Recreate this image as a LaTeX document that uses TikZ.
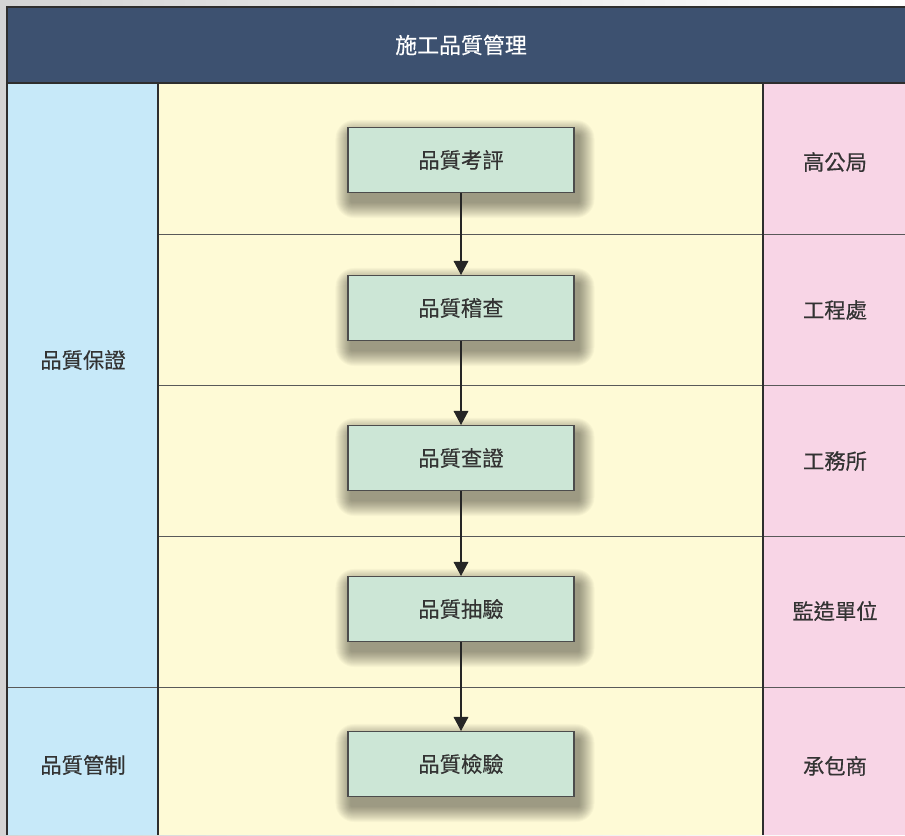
\documentclass[tikz,border=0pt]{standalone}
\usepackage{fontspec}
\newfontfamily\cjk[FakeBold=0.4]{Noto Sans CJK TC}
\usetikzlibrary{arrows.meta}

\definecolor{headblue}{HTML}{3D5170}
\definecolor{cellblue}{HTML}{C7E9F9}
\definecolor{cellyellow}{HTML}{FEFAD6}
\definecolor{cellpink}{HTML}{F8D5E6}
\definecolor{boxgreen}{HTML}{CCE6D6}
\definecolor{framegray}{HTML}{2E2E2E}
\definecolor{textgray}{HTML}{333333}

\pgfdeclarelayer{cells}
\pgfdeclarelayer{shadow}
\pgfsetlayers{cells,shadow,main}

\begin{document}
\begin{tikzpicture}[x=0.03cm, y=-0.03cm,
  font=\cjk\fontsize{18.2}{21}\selectfont,
  stepbox/.style={draw=black!70, line width=0.9pt, fill=boxgreen, text=textgray,
    minimum width=6.78cm, minimum height=1.95cm},
  celltext/.style={text=textgray},
  flow/.style={-{Triangle[length=0.42cm, width=0.44cm]}, line width=0.9pt, black!85}]

\useasboundingbox (0,0) rectangle (905,835);

\begin{pgfonlayer}{cells}
\shade[left color=black!17, right color=white] (0,0) rectangle (905,835);

% columns
\fill[headblue] (7,7) rectangle (905,83);
\fill[cellblue] (7,83) rectangle (158,835);
\fill[cellyellow] (158,83) rectangle (763,835);
\fill[cellpink] (763,83) rectangle (905,835);

\begin{scope}[black!65, line width=0.75pt]
\draw (158,234) -- (905,234);
\draw (158,385) -- (905,385);
\draw (158,536) -- (905,536);
\draw (7,687) -- (905,687);
\end{scope}

\begin{scope}[framegray, line width=1.1pt]
\draw (905,7) -- (7,7) -- (7,835);
\draw (7,83) -- (905,83);
\draw (158,83) -- (158,835);
\draw (763,83) -- (763,835);
\end{scope}
\end{pgfonlayer}

\node[white, font=\cjk\fontsize{18.7}{21}\selectfont] (title) at (461,45) {施工品質管理};

\node[celltext] (assure) at (83,360) {品質保證};
\node[celltext] (control) at (83,765) {品質管制};

\node[stepbox] (rate) at (461,160) {品質考評};
\node[stepbox] (audit) at (461,308) {品質稽查};
\node[stepbox] (verify) at (461,458) {品質查證};
\node[stepbox] (sample) at (461,609) {品質抽驗};
\node[stepbox] (inspect) at (461,764) {品質檢驗};

\node[celltext] (bureau) at (835,162) {高公局};
\node[celltext] (office) at (835,310) {工程處};
\node[celltext] (works) at (835,461) {工務所};
\node[celltext] (super) at (835,611) {監造單位};
\node[celltext] (contractor) at (835,766) {承包商};

% soft shadows under the boxes
\begin{pgfonlayer}{shadow}
\foreach \b in {rate,audit,verify,sample,inspect}
  \foreach \r in {1,...,16}
    \fill[black, opacity=0.026, rounded corners=\r pt]
      ([shift={(4-\r,9-\r)}]\b.north west) rectangle ([shift={(4+\r,9+\r)}]\b.south east);
\end{pgfonlayer}

\draw[flow] (rate) -- (audit);
\draw[flow] (audit) -- (verify);
\draw[flow] (verify) -- (sample);
\draw[flow] (sample) -- (inspect);

\end{tikzpicture}
\end{document}
